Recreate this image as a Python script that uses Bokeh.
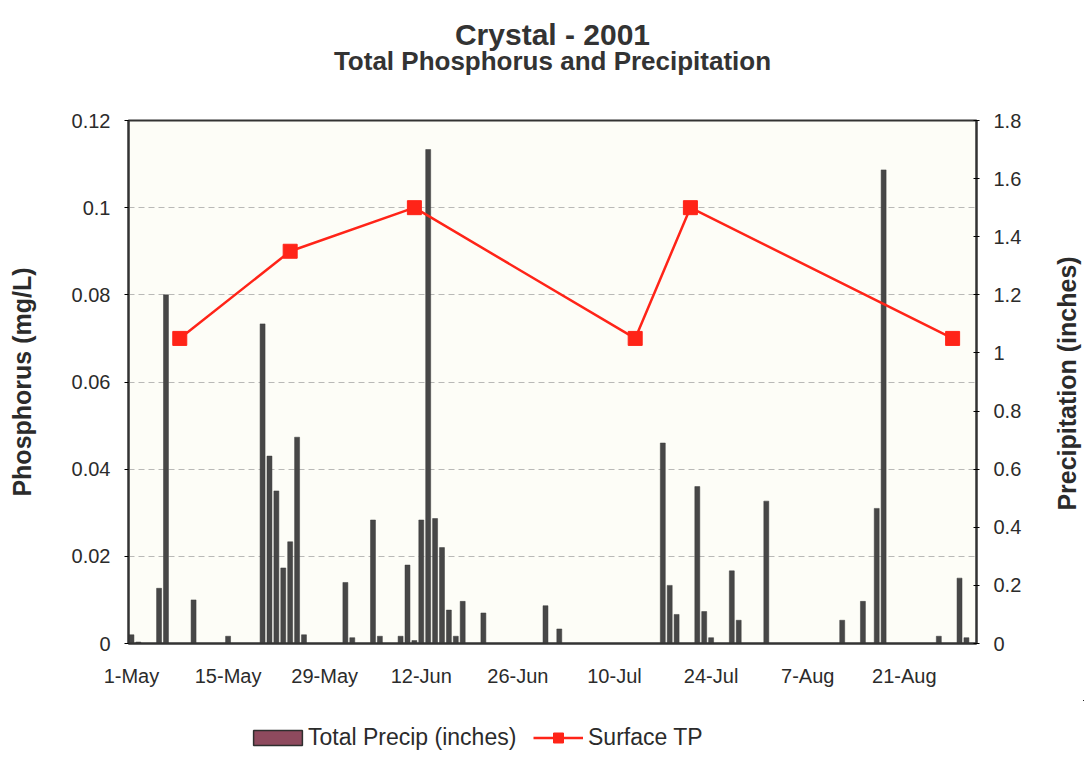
import pandas as pd
from math import pi
from bokeh.plotting import figure
from bokeh.layouts import column, row
from bokeh.models import Range1d, LinearAxis, FixedTicker, Legend, LegendItem, Label
from bokeh.embed import file_html
from bokeh.resources import INLINE

START = pd.Timestamp("2001-05-01")

precip_dates = ["2001-05-01", "2001-05-02", "2001-05-05", "2001-05-06", "2001-05-10", "2001-05-15",
                "2001-05-20", "2001-05-21", "2001-05-22", "2001-05-23", "2001-05-24", "2001-05-25",
                "2001-05-26", "2001-06-01", "2001-06-02", "2001-06-05", "2001-06-06", "2001-06-09",
                "2001-06-10", "2001-06-11", "2001-06-12", "2001-06-13", "2001-06-14", "2001-06-15",
                "2001-06-16", "2001-06-17", "2001-06-18", "2001-06-21", "2001-06-30", "2001-07-02",
                "2001-07-17", "2001-07-18", "2001-07-19", "2001-07-22", "2001-07-23", "2001-07-24",
                "2001-07-27", "2001-07-28", "2001-08-01", "2001-08-12", "2001-08-15", "2001-08-17",
                "2001-08-18", "2001-08-26", "2001-08-29", "2001-08-30"]
precip_in = [0.03, 0.005, 0.19, 1.20, 0.15, 0.025,
             1.10, 0.645, 0.525, 0.26, 0.35, 0.71,
             0.03, 0.21, 0.02, 0.425, 0.025, 0.025,
             0.27, 0.01, 0.425, 1.70, 0.43, 0.33,
             0.115, 0.025, 0.145, 0.105, 0.13, 0.05,
             0.69, 0.20, 0.10, 0.54, 0.11, 0.02,
             0.25, 0.08, 0.49, 0.08, 0.145, 0.465,
             1.63, 0.025, 0.225, 0.02]

tp_dates = ["2001-05-08", "2001-05-24", "2001-06-11", "2001-07-13", "2001-07-21", "2001-08-28"]
tp_mgL = [0.07, 0.09, 0.10, 0.07, 0.10, 0.07]

tick_dates = ["2001-05-01", "2001-05-15", "2001-05-29", "2001-06-12", "2001-06-26",
              "2001-07-10", "2001-07-24", "2001-08-07", "2001-08-21"]
tick_labels = ["1-May", "15-May", "29-May", "12-Jun", "26-Jun", "10-Jul", "24-Jul", "7-Aug", "21-Aug"]

left_ticks = [0, 0.02, 0.04, 0.06, 0.08, 0.1, 0.12]
left_tick_labels = ["0", "0.02", "0.04", "0.06", "0.08", "0.1", "0.12"]
right_ticks = [0, 0.2, 0.4, 0.6, 0.8, 1.0, 1.2, 1.4, 1.6, 1.8]
right_tick_labels = ["0", "0.2", "0.4", "0.6", "0.8", "1", "1.2", "1.4", "1.6", "1.8"]

title_text = "Crystal - 2001"
subtitle_text = "Total Phosphorus and Precipitation"
left_label_text = "Phosphorus (mg/L)"
right_label_text = "Precipitation (inches)"
legend_labels = ["Total Precip (inches)", "Surface TP"]


def days(ds):
    return [int((pd.Timestamp(d) - START).days) for d in ds]


precip_x = days(precip_dates)
tp_x = days(tp_dates)
tick_x = days(tick_dates)

X0, X1 = -0.43, 122.46
XMID = (X0 + X1) / 2

FONT = "Liberation Sans"
TXT = "#2b2b2b"
BAR = "#474747"
RED = "#ff2418"

MAIN_W, SIDE_W, MAIN_H, LEG_H = 1030, 54, 700, 82
B_LEFT, B_RIGHT, B_TOP, B_BOTTOM = 128, 54, 120, 57

p = figure(width=MAIN_W, height=MAIN_H, x_range=Range1d(X0, X1), y_range=Range1d(0, 0.12),
           output_backend="svg", toolbar_location=None,
           min_border_left=B_LEFT, min_border_right=B_RIGHT, min_border_top=B_TOP,
           min_border_bottom=B_BOTTOM,
           background_fill_color="#fdfdf7", border_fill_color="white",
           outline_line_color="#333333", outline_line_width=2)
p.title.visible = False
p.extra_y_ranges = {"precip": Range1d(0, 1.8)}

bars = p.vbar(x=precip_x, top=precip_in, bottom=0, width=0.72, y_range_name="precip",
              fill_color=BAR, line_color="#3a3a3a", line_width=0.5)
line = p.line(tp_x, tp_mgL, line_color=RED, line_width=2.5)
pts = p.scatter(tp_x, tp_mgL, marker="square", size=14, fill_color=RED, line_color=RED)

# grid
p.xgrid.visible = False
p.ygrid.ticker = FixedTicker(ticks=left_ticks)
p.ygrid.grid_line_color = "#8c8c8c"
p.ygrid.grid_line_alpha = 0.6
p.ygrid.grid_line_dash = "6 4"
p.ygrid.grid_line_width = 1


def bare(ax):
    ax.major_tick_out = 0
    ax.major_tick_in = 0
    ax.minor_tick_out = 0
    ax.minor_tick_in = 0


# x axis
xa = p.xaxis[0]
xa.ticker = FixedTicker(ticks=tick_x)
xa.major_label_overrides = {t: l for t, l in zip(tick_x, tick_labels)}
xa.major_label_text_font = FONT
xa.major_label_text_font_size = "20px"
xa.major_label_text_color = TXT
bare(xa)
xa.major_label_standoff = 21
xa.axis_line_color = "#333333"
xa.axis_line_width = 2

# left axis
ya = p.yaxis[0]
ya.ticker = FixedTicker(ticks=left_ticks)
ya.major_label_overrides = {t: l for t, l in zip(left_ticks, left_tick_labels)}
ya.major_label_text_font = FONT
ya.major_label_text_font_size = "20px"
ya.major_label_text_color = TXT
bare(ya)
ya.major_tick_out = 4
ya.major_label_standoff = 14
ya.axis_line_color = "#333333"
ya.axis_line_width = 2
ya.axis_label = left_label_text
ya.axis_label_text_font = FONT
ya.axis_label_text_font_style = "bold"
ya.axis_label_text_font_size = "25px"
ya.axis_label_text_color = TXT
ya.axis_label_standoff = 33

# right axis
ra = LinearAxis(y_range_name="precip", ticker=FixedTicker(ticks=right_ticks))
ra.major_label_overrides = {t: l for t, l in zip(right_ticks, right_tick_labels)}
ra.major_label_text_font = FONT
ra.major_label_text_font_size = "20px"
ra.major_label_text_color = TXT
bare(ra)
ra.major_tick_out = 3
ra.major_tick_in = 3
ra.major_label_standoff = 14
ra.axis_line_color = "#333333"
ra.axis_line_width = 2
p.add_layout(ra, "right")

# title + subtitle as an unlined axis above the frame
ta = LinearAxis(ticker=FixedTicker(ticks=[XMID]))
ta.major_label_overrides = {XMID: subtitle_text}
ta.major_label_text_font = FONT
ta.major_label_text_font_style = "bold"
ta.major_label_text_font_size = "26px"
ta.major_label_text_color = "#333333"
ta.axis_line_color = None
ta.major_tick_line_color = None
ta.minor_tick_line_color = None
bare(ta)
ta.major_label_standoff = 45
ta.axis_label = title_text
ta.axis_label_text_font = FONT
ta.axis_label_text_font_style = "bold"
ta.axis_label_text_font_size = "30px"
ta.axis_label_text_color = "#333333"
ta.axis_label_standoff = -8
p.add_layout(ta, "above")

# narrow strip at the right holding the right-axis title (reads bottom-to-top)
rf = figure(width=SIDE_W, height=MAIN_H, x_range=Range1d(0, 1), y_range=Range1d(0, 1),
            output_backend="svg", toolbar_location=None,
            x_axis_location=None, y_axis_location=None,
            min_border_left=0, min_border_right=0, min_border_top=B_TOP,
            min_border_bottom=B_BOTTOM,
            outline_line_color=None, background_fill_color="white", border_fill_color="white")
rf.title.visible = False
rf.xgrid.visible = False
rf.ygrid.visible = False
rf.add_layout(Label(x=1066 - MAIN_W, y=260, x_units="screen", y_units="screen", angle=pi / 2,
                    text=right_label_text, text_font=FONT, text_font_style="bold",
                    text_font_size="25px", text_color=TXT, text_align="center",
                    text_baseline="middle"))

# legend strip below the chart (its marks fall outside its view; only the legends show)
lg = figure(width=MAIN_W + SIDE_W, height=LEG_H, x_range=Range1d(-1000, -999),
            y_range=Range1d(-1000, -999),
            output_backend="svg", toolbar_location=None,
            x_axis_location=None, y_axis_location=None,
            min_border_left=B_LEFT, min_border_right=0, min_border_top=0, min_border_bottom=0,
            outline_line_color=None, background_fill_color="white", border_fill_color="white")
lg.xgrid.visible = False
lg.ygrid.visible = False
lg.title.visible = False
sw = lg.vbar(x=precip_x, top=precip_in, bottom=0, width=0.72, fill_color="#8e4a5e",
             line_color="#2e2e2e", line_width=1.5)
lline = lg.line(tp_x, tp_mgL, line_color=RED, line_width=2.5)
lpts = lg.scatter(tp_x, tp_mgL, marker="square", size=10, fill_color=RED, line_color=RED)

common = dict(orientation="horizontal", padding=0, margin=0, border_line_color=None,
              background_fill_alpha=0, label_text_font=FONT, label_text_font_size="23px",
              label_text_color=TXT)
leg1 = Legend(items=[LegendItem(label=legend_labels[0], renderers=[sw])],
              location=(119, 31), glyph_width=61, glyph_height=19, label_standoff=0, **common)
leg2 = Legend(items=[LegendItem(label=legend_labels[1], renderers=[lline, lpts])],
              location=(405, 31), glyph_width=50, glyph_height=25, label_standoff=5, **common)
lg.add_layout(leg1)
lg.add_layout(leg2)

layout = column(row(p, rf, spacing=0), lg, spacing=0)
open("out.html", "w").write(file_html(layout, INLINE))
